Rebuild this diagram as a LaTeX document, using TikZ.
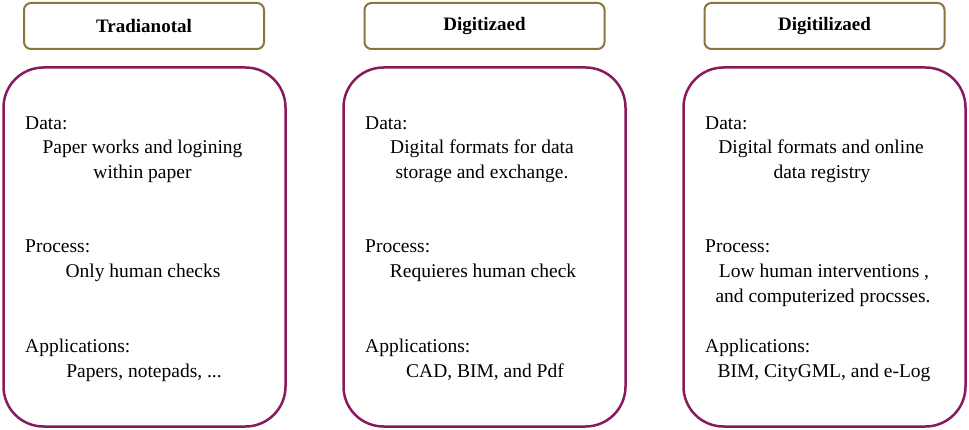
\documentclass[tikz,border=0pt]{standalone}
\usepackage{fontspec}
\setmainfont{Liberation Serif}
\definecolor{hdr}{HTML}{8C7440}
\definecolor{bod}{HTML}{861A5C}
\begin{document}
\begin{tikzpicture}[x=1pt,y=-1pt,
  header/.style={draw=hdr,line width=2pt,rounded corners=7pt,minimum width=240pt,minimum height=46pt,inner sep=0pt,font=\fontsize{19}{23}\selectfont\bfseries},
  panel/.style={draw=bod,line width=2.5pt,rounded corners=40pt,minimum width=282pt,minimum height=359pt,inner sep=0pt},
  lbl/.style={anchor=base west,inner sep=0pt,font=\fontsize{19.5}{24}\selectfont},
  txt/.style={anchor=base,inner sep=0pt,font=\fontsize{19.5}{24}\selectfont}]
\useasboundingbox (0,0) rectangle (969,430);
% headers
\node[header] (h1) at (144,26) {Tradianotal};
\node[header] (h2) at (484.5,26) {Digitizaed};
\node[header] (h3) at (824.5,26) {Digitilizaed};
% panels
\node[panel] (p1) at (144.5,247) {};
\node[panel] (p2) at (484.5,247) {};
\node[panel] (p3) at (824.5,247) {};
% panel 1
\node[lbl] (d1) at (25,130) {Data:};
\node[txt] (d1a) at (142.5,154) {Paper works and logining};
\node[txt] (d1b) at (142.5,179) {within paper};
\node[lbl] (r1) at (25,253) {Process:};
\node[txt] (r1a) at (143,278) {Only human checks};
\node[lbl] (a1) at (25,352) {Applications:};
\node[txt] (a1a) at (144,377) {Papers, notepads, ...};
% panel 2
\node[lbl] (d2) at (365,130) {Data:};
\node[txt] (d2a) at (482,154) {Digital formats for data};
\node[txt] (d2b) at (482,179) {storage and exchange.};
\node[lbl] (r2) at (365,253) {Process:};
\node[txt] (r2a) at (483,278) {Requieres human check};
\node[lbl] (a2) at (365,352) {Applications:};
\node[txt] (a2a) at (485,377) {CAD, BIM, and Pdf};
% panel 3
\node[lbl] (d3) at (705,130) {Data:};
\node[txt] (d3a) at (821,154) {Digital formats and online};
\node[txt] (d3b) at (822,179) {data registry};
\node[lbl] (r3) at (705,253) {Process:};
\node[txt] (r3a) at (824,278) {Low human interventions ,};
\node[txt] (r3b) at (823,302) {and computerized procsses.};
\node[lbl] (a3) at (705,352) {Applications:};
\node[txt] (a3a) at (824,377) {BIM, CityGML, and e-Log};
\end{tikzpicture}
\end{document}
